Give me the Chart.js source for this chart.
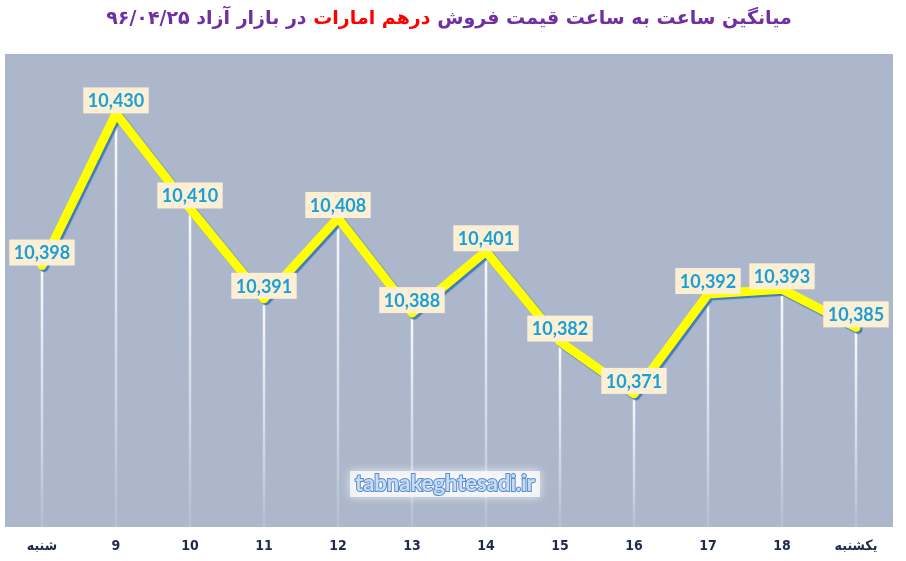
<!DOCTYPE html>
<html lang="fa">
<head>
<meta charset="utf-8">
<title>میانگین ساعت به ساعت قیمت فروش درهم امارات</title>
<script src="https://cdn.jsdelivr.net/npm/chart.js@4.4.1/dist/chart.umd.min.js"></script>
<style>
  html, body { margin: 0; padding: 0; background: #fff; }
  #wrap { position: relative; width: 906px; height: 561px; }
  #title {
    position: absolute; top: 6px; left: 0; width: 906px;
    text-align: center; direction: rtl;
    font: bold 19px 'DejaVu Sans', sans-serif; color: #7030a0;
    padding-right: 8px; box-sizing: border-box;
  }
  #title span { color: #ff0000; }
</style>
</head>
<body>
<div id="wrap">
  <div id="title">میانگین ساعت به ساعت قیمت فروش <span>درهم امارات</span> در بازار آزاد ۹۶/۰۴/۲۵</div>
  <canvas id="chart" width="906" height="561"></canvas>
</div>
<script>
/* ── داده‌ها ── */
const HOURS  = ['شنبه', '9', '10', '11', '12', '13', '14', '15', '16', '17', '18', 'یکشنبه'];
const PRICES = [10398, 10430, 10410, 10391, 10408, 10388, 10401, 10382, 10371, 10392, 10393, 10385];
const Y_MIN = 10343;
const Y_MAX = 10442.5;

const COLORS = {
  plot: '#acb7cb',
  line: '#ffff00',
  shadow: '#3f7cc0',
  labelBg: '#fdefd4',
  labelText: '#1aa0d8',
  axisText: '#1f2b4d',
};

/* ── پس‌زمینه ناحیه نمودار + خطوط عمودی ── */
const plotBg = {
  id: 'plotBg',
  beforeDatasetsDraw(chart) {
    const { ctx, chartArea: a } = chart;
    ctx.save();
    ctx.fillStyle = COLORS.plot;
    ctx.fillRect(a.left, a.top, a.right - a.left, a.bottom - a.top);

    const meta = chart.getDatasetMeta(0);
    meta.data.forEach(pt => {
      const g = ctx.createLinearGradient(0, pt.y, 0, a.bottom);
      g.addColorStop(0, 'rgba(255,255,255,0.95)');
      g.addColorStop(0.7, 'rgba(240,242,255,0.5)');
      g.addColorStop(1, 'rgba(230,235,250,0.15)');
      ctx.strokeStyle = g;
      ctx.lineWidth = 2.5;
      ctx.beginPath();
      ctx.moveTo(pt.x, pt.y);
      ctx.lineTo(pt.x, a.bottom);
      ctx.stroke();
    });
    ctx.restore();
  }
};

/* ── سایه آبی زیر خط زرد ── */
const lineShadow = {
  id: 'lineShadow',
  beforeDatasetDraw(chart) {
    const ctx = chart.ctx;
    ctx.save();
    ctx.shadowColor = COLORS.shadow;
    ctx.shadowOffsetX = 2;
    ctx.shadowOffsetY = 2;
    ctx.shadowBlur = 1;
  },
  afterDatasetDraw(chart) {
    chart.ctx.restore();
  }
};

/* ── برچسب مقادیر + واترمارک ── */
const valueLabels = {
  id: 'valueLabels',
  afterDatasetsDraw(chart) {
    const { ctx } = chart;
    const meta = chart.getDatasetMeta(0);
    ctx.save();
    ctx.font = 'bold 18px Lato, sans-serif';
    ctx.textAlign = 'center';
    ctx.textBaseline = 'middle';
    meta.data.forEach((pt, i) => {
      const txt = PRICES[i].toLocaleString('en-US');
      const w = ctx.measureText(txt).width + 9;
      const h = 26;
      ctx.fillStyle = COLORS.labelBg;
      ctx.fillRect(pt.x - w / 2, pt.y - h, w, h);
      ctx.fillStyle = COLORS.labelText;
      ctx.fillText(txt, pt.x, pt.y - h / 2 + 1);
    });

    // واترمارک
    const cx = 445, cy = 484;
    ctx.font = 'bold 22px Lato, sans-serif';
    const mark = 'tabnakeghtesadi.ir';
    const mw = ctx.measureText(mark).width;
    ctx.shadowColor = 'rgba(255,255,255,1)';
    ctx.shadowBlur = 10;
    ctx.fillStyle = 'rgba(255,255,255,0.7)';
    ctx.fillRect(cx - mw / 2 - 5, cy - 13, mw + 10, 26);
    ctx.shadowBlur = 0;
    ctx.lineWidth = 2;
    ctx.strokeStyle = '#5b8ccc';
    ctx.strokeText(mark, cx, cy);
    ctx.fillStyle = '#c8dcf4';
    ctx.fillText(mark, cx, cy);
    ctx.restore();
  }
};

new Chart(document.getElementById('chart'), {
  type: 'line',
  data: {
    labels: HOURS,
    datasets: [{
      data: PRICES,
      borderColor: COLORS.line,
      borderWidth: 9,
      borderCapStyle: 'round',
      borderJoinStyle: 'round',
      pointRadius: 0,
      tension: 0,
      fill: false,
    }]
  },
  options: {
    responsive: false,
    animation: false,
    layout: { padding: { top: 54, left: 5, right: 13, bottom: 0 } },
    scales: {
      x: {
        offset: true,
        grid: { display: false, drawTicks: false },
        border: { display: false },
        afterFit: scale => { scale.height = 34; },
        ticks: {
          padding: 11,
          color: COLORS.axisText,
          font: { size: 14, weight: 'bold', family: "'Liberation Sans Narrow', 'DejaVu Sans Condensed', sans-serif" },
          maxRotation: 0,
          autoSkip: false,
        }
      },
      y: { display: false, min: Y_MIN, max: Y_MAX }
    },
    plugins: {
      legend: { display: false },
      tooltip: { enabled: false }
    }
  },
  plugins: [plotBg, lineShadow, valueLabels]
});
</script>
</body>
</html>
